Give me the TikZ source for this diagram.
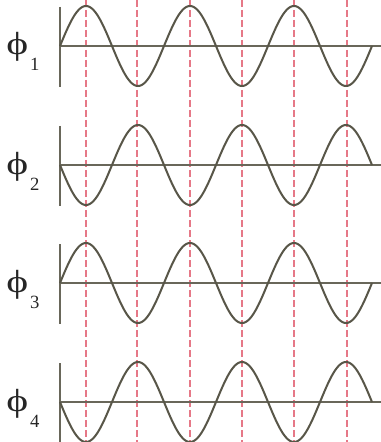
\documentclass[tikz,border=0pt]{standalone}
\usepackage{fontspec}
\setmainfont{Liberation Serif}
\begin{document}
\begin{tikzpicture}[x=0.75pt,y=-0.75pt,
  wave/.style={draw=wavecol,line width=1.5pt},
  axisline/.style={draw=axiscol,line width=1.4pt},
  marker/.style={draw=markcol,line width=0.9pt,dash pattern=on 5pt off 2.5pt},
  lbl/.style={font=\fontsize{24}{28}\selectfont,inner sep=0pt,text=black!85}]
\definecolor{wavecol}{RGB}{88,86,72}
\definecolor{axiscol}{RGB}{105,103,90}
\definecolor{markcol}{RGB}{230,120,135}
\useasboundingbox (0,0) rectangle (381,442);
\fill[white] (0,0) rectangle (381,442);
% dashed markers
\foreach \i/\xx in {1/86,2/137,3/190,4/242,5/294,6/347}{
  \coordinate (top\i) at (\xx,0);
  \coordinate (bot\i) at (\xx,442);
  \draw[marker] (top\i) -- (bot\i);
}
% rows: axis y, sign
\foreach \r/\yy/\s in {1/46/1,2/165/-1,3/283/1,4/402/-1}{
  \coordinate (vt\r) at (60,\yy-39);
  \coordinate (vb\r) at (60,\yy+41);
  \coordinate (hl\r) at (60,\yy);
  \coordinate (hr\r) at (381,\yy);
  \draw[axisline] (vt\r) -- (vb\r);
  \draw[axisline] (hl\r) -- (hr\r);
  \draw[wave] plot[variable=\t,domain=0:1080,samples=361] ({60+\t*0.288889},{\yy-(\s)*40*sin(\t)});
  \node[lbl,anchor=base west] (phi\r) at (6,\yy+9) {\scalebox{1.3}[1]{ϕ}\hspace{1.5pt}\raisebox{-12pt}{\fontsize{14}{16}\selectfont \r}};
}
\end{tikzpicture}
\end{document}
